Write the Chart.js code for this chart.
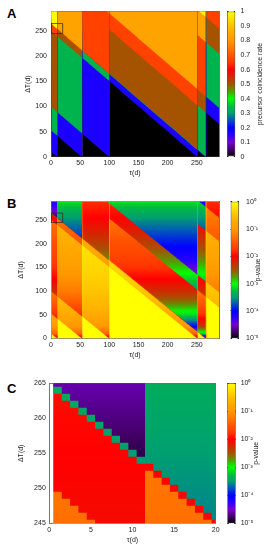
<!DOCTYPE html>
<html>
<head>
<meta charset="utf-8">
<title>Precursor coincidence rate and p-value</title>
<script src="https://cdn.jsdelivr.net/npm/chart.js@4.4.1/dist/chart.umd.min.js"></script>
<style>
html,body{margin:0;padding:0;background:#fff;}
#wrap{position:relative;width:270px;height:550px;overflow:hidden;background:#fff;}
#wrap canvas{position:absolute;}
.letter{position:absolute;left:7px;font-family:"Liberation Sans",Arial,sans-serif;font-weight:bold;font-size:13px;line-height:13px;color:#000;}
</style>
</head>
<body>
<div id="wrap">
<div class="letter" style="top:6.6px">A</div>
<div class="letter" style="top:197.3px">B</div>
<div class="letter" style="top:382.3px">C</div>
</div>
<script>
// ================= DATA =================
const nEvents = 6;                       // number of target events (rates are k/6)
// τ ranges (days, inclusive) of the vertical strips
const tauColumns = [[1,11],[12,53],[54,100],[101,251],[252,265],[266,266],[267,288]];
// per strip: values of S = τ+ΔT (days) at which one more event coincides
const sThresholds = [
  [11, 53, 100, 251, 265, 266],
  [53, 100, 251, 265, 266],
  [100, 251, 265, 266, 386],
  [251, 265, 266, 354, 386, 544],
  [265, 266, 354, 386, 494, 544],
  [266, 354, 386, 494, 544],
  [354, 386, 494, 544]
];
// p-value (log10) of k coinciding events, as a function of ΔT
const dTsamples = [0, 10, 25, 50, 75, 100, 125, 150, 175, 200, 225, 250, 275, 289];
const logP_k1 = [-2.40,-1.40,-1.01,-0.73,-0.57,-0.46,-0.38,-0.32,-0.27,-0.23,-0.20,-0.17,-0.15,-0.14];
const logP_k2 = [-5.00,-3.17,-2.38,-1.80,-1.47,-1.24,-1.07,-0.93,-0.81,-0.72,-0.64,-0.57,-0.50,-0.47];
const logP_k3 = [-5.00,-5.00,-4.02,-3.14,-2.63,-2.27,-2.00,-1.78,-1.65,-1.55,-1.42,-1.30,-1.18,-1.12];
const logP_k4 = [-5.00,-5.00,-5.00,-4.72,-4.03,-3.54,-3.17,-2.86,-2.61,-2.39,-2.20,-2.03,-1.88,-1.80];
const logP_k5 = [-5.00,-5.00,-5.00,-5.00,-5.00,-5.00,-4.70,-4.40,-4.15,-3.95,-3.75,-3.55,-3.30,-3.10];
const logP_k6 = [-5.00,-5.00,-5.00,-5.00,-5.00,-5.00,-5.00,-5.00,-5.00,-5.00,-5.00,-4.95,-4.35,-4.20];
// axes / ticks
const tauRangeAB = [0, 288];
const dTRangeAB = [0, 289];
const tauTicksAB = [0, 50, 100, 150, 200, 250];
const dTTicksAB = [0, 50, 100, 150, 200, 250];
const zoomTau = [0, 20];                 // panel C range (box in A and B)
const zoomDT = [245, 265];
const tauTicksC = [0, 5, 10, 15, 20];
const dTTicksC = [245, 250, 255, 260, 265];
const rateTicks = [0, 0.1, 0.2, 0.3, 0.4, 0.5, 0.6, 0.7, 0.8, 0.9, 1];
const pTicks = [1e-5, 1e-4, 1e-3, 1e-2, 1e-1, 1];
const pTickLabels = ['10\u207B\u2075','10\u207B\u2074','10\u207B\u00B3','10\u207B\u00B2','10\u207B\u00B9','10\u2070'];
// ===============================================================

const logPByCount = [null, logP_k1, logP_k2, logP_k3, logP_k4, logP_k5, logP_k6];
const pLogMin = Math.log10(pTicks[0]), pLogMax = Math.log10(pTicks[pTicks.length - 1]);

const FAMILY = '"Liberation Sans", Arial, Helvetica, sans-serif';
Chart.defaults.font.family = FAMILY;
Chart.defaults.color = '#222';
const F7 = {family: FAMILY, size: 7, lineHeight: 1.2, weight: 'normal'};

const cmapStops = [
  [0.00,[0,0,0]], [0.05,[70,0,110]], [0.10,[120,0,210]], [0.15,[40,0,255]],
  [0.20,[0,0,255]], [0.25,[0,80,192]], [0.30,[0,160,112]], [0.35,[0,190,60]],
  [0.40,[0,255,0]], [0.45,[80,160,0]], [0.50,[165,83,0]], [0.55,[210,40,0]],
  [0.60,[255,0,0]], [0.65,[255,56,0]], [0.70,[255,85,0]], [0.75,[255,122,0]],
  [0.80,[255,153,0]], [0.85,[255,168,0]], [0.90,[255,191,0]], [0.95,[255,224,0]],
  [1.00,[255,255,0]]
];
function cmap(f) {
  f = Math.max(0, Math.min(1, f));
  for (let i = 1; i < cmapStops.length; i++) {
    const [f1, c1] = cmapStops[i];
    if (f <= f1) {
      const [f0, c0] = cmapStops[i - 1];
      const u = (f - f0) / (f1 - f0);
      const c = c0.map((v, j) => Math.round(v + (c1[j] - v) * u));
      return 'rgb(' + c.join(',') + ')';
    }
  }
  return 'rgb(255,255,0)';
}
const gradCache = new Map();
function pGradient(chart, k) {
  const ys = chart.scales.y;
  if (!ys || !chart.chartArea) return cmap(0.5);
  const key = chart.id + ':' + k + ':' + ys.top + ':' + ys.bottom;
  if (gradCache.has(key)) return gradCache.get(key);
  const tbl = logPByCount[k];
  const n = dTsamples.length, d0 = dTsamples[0], d1 = dTsamples[n - 1];
  const g = chart.ctx.createLinearGradient(0, ys.getPixelForValue(d0), 0, ys.getPixelForValue(d1));
  const fOf = lp => (lp - pLogMin) / (pLogMax - pLogMin);
  for (let i = 0; i < n - 1; i++) {
    for (let s = 0; s < 6; s++) {
      const u = s / 6;
      const dT = dTsamples[i] + (dTsamples[i + 1] - dTsamples[i]) * u;
      const lp = tbl[i] + (tbl[i + 1] - tbl[i]) * u;
      g.addColorStop((dT - d0) / (d1 - d0), cmap(fOf(lp)));
    }
  }
  g.addColorStop(1, cmap(fOf(tbl[n - 1])));
  gradCache.set(key, g);
  return g;
}
function cbGradient(chart) {
  const a = chart.chartArea;
  if (!a) return cmap(0.5);
  const g = chart.ctx.createLinearGradient(0, a.bottom, 0, a.top);
  cmapStops.forEach(([f, c]) => g.addColorStop(f, 'rgb(' + c.join(',') + ')'));
  return g;
}

// polygons of constant coincidence count, painted from low S to high S
function buildDatasets(P) {
  const tStart = Math.max(tauColumns[0][0], Math.ceil(P.x[0]));
  const tEnd = Math.min(tauColumns[tauColumns.length - 1][1], Math.floor(P.x[1] + 0.5));
  const yTop = P.y[1] + 2, yBot = P.y[0] - 2;
  const paint = [];
  tauColumns.forEach((col, ci) => {
    const t0 = Math.max(col[0], tStart), t1 = Math.min(col[1], tEnd);
    if (t0 > t1) return;
    const ext = t1 < tEnd ? 0.6 : 0;
    const levels = [-Infinity].concat(sThresholds[ci]);
    levels.forEach((s, k) => {
      const pts = [{x: t0 - 0.5, y: yTop}];
      for (let t = t0; t <= t1; t++) {
        const yb = Math.max(yBot, Math.min(yTop, s - t - 0.5));
        pts.push({x: t - 0.5, y: yb}, {x: t === t1 ? t + 0.5 + ext : t + 0.5, y: yb});
      }
      pts.push({x: t1 + 0.5 + ext, y: yTop});
      let bg;
      if (P.mode === 'rate') bg = cmap(k / nEvents);
      else bg = k === 0 ? cmap(1) : (ctx => pGradient(ctx.chart, k));
      paint.push({data: pts, showLine: true, fill: 'shape', backgroundColor: bg,
                  borderWidth: 0, borderColor: 'rgba(0,0,0,0)', pointRadius: 0, tension: 0});
    });
  });
  if (P.box) {
    paint.push({data: [
      {x: zoomTau[0], y: zoomDT[0]}, {x: zoomTau[1], y: zoomDT[0]},
      {x: zoomTau[1], y: zoomDT[1]}, {x: zoomTau[0], y: zoomDT[1]}, {x: zoomTau[0], y: zoomDT[0]}],
      showLine: true, fill: false, borderColor: 'rgba(50,40,30,0.8)', borderWidth: 0.9,
      pointRadius: 0, tension: 0});
  }
  return paint.reverse();
}

const wrap = document.getElementById('wrap');
function addCanvas(left, top, w, h) {
  const c = document.createElement('canvas');
  c.width = w; c.height = h;
  c.style.left = left + 'px'; c.style.top = top + 'px';
  c.style.width = w + 'px'; c.style.height = h + 'px';
  wrap.appendChild(c);
  return c;
}
const tickSetter = arr => (s => { s.ticks = arr.map(v => ({value: v})); });

function makePanel(P) {
  const cTop = Math.floor(P.plot.t) - 14;
  const cH = Math.ceil(P.plot.b) + 30 - cTop;
  const padTop = P.plot.t - cTop;
  const plotBot = P.plot.b - cTop;
  const xAxisH = 26;
  const padBottom = cH - plotBot - xAxisH;
  const W = 222;
  const border = {display: true, color: '#777', width: 1};
  const noGrid = {display: false, drawTicks: false};
  // ---- heatmap ----
  new Chart(addCanvas(0, cTop, W, cH), {
    type: 'scatter',
    data: {datasets: buildDatasets(P)},
    options: {
      responsive: false, animation: false, events: [],
      layout: {padding: {left: 0, top: padTop, right: W - P.plot.r, bottom: padBottom}},
      plugins: {legend: {display: false}, tooltip: {enabled: false}},
      scales: {
        x: {type: 'linear', position: 'bottom', min: P.x[0], max: P.x[1],
            afterBuildTicks: tickSetter(P.xTicks),
            ticks: {font: F7, color: '#222', padding: 2.4, autoSkip: false, maxRotation: 0, callback: v => String(v)},
            grid: noGrid, border: border,
            title: {display: true, text: '\u03C4(d)', font: F7, color: '#222', padding: {top: 0, bottom: 5.1}},
            afterFit: s => { s.height = xAxisH; }},
        y: {type: 'linear', position: 'left', min: P.y[0], max: P.y[1],
            afterBuildTicks: tickSetter(P.yTicks),
            ticks: {font: F7, color: '#222', padding: P.yTickPad, autoSkip: false, callback: v => String(v)},
            grid: noGrid, border: border,
            title: {display: true, text: '\u0394T(d)', font: F7, color: '#222', padding: {top: P.yTitleX - 4.2, bottom: 0}},
            afterFit: s => { s.width = P.plot.l; }},
        x2: {type: 'linear', position: 'top', ticks: {display: false}, grid: noGrid, border: border,
             afterFit: s => { s.height = 0; }},
        y2: {type: 'linear', position: 'right', ticks: {display: false}, grid: noGrid, border: border,
             afterFit: s => { s.width = 0; }}
      }
    }
  });
  // ---- colour bar ----
  const CBW = 48, cbLeft = 222;
  const isLog = P.mode === 'p';
  const cbRange = isLog ? [pTicks[0], pTicks[pTicks.length - 1]] : [rateTicks[0], rateTicks[rateTicks.length - 1]];
  new Chart(addCanvas(cbLeft, cTop, CBW, cH), {
    type: 'bar',
    data: {labels: [''], datasets: [{data: [cbRange], backgroundColor: ctx => cbGradient(ctx.chart),
      borderColor: '#555', borderWidth: 1, borderSkipped: false, barPercentage: 1, categoryPercentage: 1}]},
    options: {
      responsive: false, animation: false, events: [],
      layout: {padding: {left: P.cb.l - cbLeft, top: padTop, right: 0, bottom: cH - plotBot}},
      plugins: {legend: {display: false}, tooltip: {enabled: false}},
      scales: {
        x: {display: false},
        y: {type: isLog ? 'logarithmic' : 'linear', position: 'right', min: cbRange[0], max: cbRange[1], z: 1,
            afterBuildTicks: tickSetter(isLog ? pTicks : rateTicks),
            ticks: {font: F7, color: '#222', padding: P.cb.labelX - P.cb.r, autoSkip: false,
                    callback: v => isLog ? pTickLabels[pTicks.findIndex(t => Math.abs(t - v) < t * 1e-6)] : String(Math.round(v * 10) / 10)},
            grid: {display: true, drawTicks: false, color: '#111', lineWidth: 1},
            border: {display: false, dash: [1.5, P.cb.r - P.cb.l - 3]},
            afterFit: s => { s.width = CBW - (P.cb.r - cbLeft); }}
      }
    }
  });
  // ---- colour bar label ----
  const lx = Math.floor(P.cb.titleX - 4.2);
  new Chart(addCanvas(lx, cTop, 12, cH), {
    type: 'bar',
    data: {labels: [], datasets: []},
    options: {
      responsive: false, animation: false, events: [],
      layout: {padding: {left: P.cb.titleX - 4.2 - lx, top: padTop, right: 0, bottom: cH - plotBot}},
      plugins: {legend: {display: false}, tooltip: {enabled: false},
        title: {display: true, position: 'left', text: P.cb.title, font: F7, color: '#222', padding: 0}},
      scales: {x: {display: false}, y: {display: false}}
    }
  });
}

const PANELS = [
  {mode: 'rate', x: tauRangeAB, y: dTRangeAB, xTicks: tauTicksAB, yTicks: dTTicksAB,
   plot: {l: 51, t: 11.5, r: 219, b: 156.7}, yTitleX: 28.5, yTickPad: 4, box: true,
   cb: {l: 227, r: 235.3, labelX: 240.5, titleX: 260, title: 'precursor coincidence rate'}},
  {mode: 'p', x: tauRangeAB, y: dTRangeAB, xTicks: tauTicksAB, yTicks: dTTicksAB,
   plot: {l: 51, t: 201.7, r: 219, b: 338.3}, yTitleX: 20.7, yTickPad: 4, box: true,
   cb: {l: 230.6, r: 239, labelX: 246, titleX: 257.8, title: 'p-value'}},
  {mode: 'p', x: zoomTau, y: zoomDT, xTicks: tauTicksC, yTicks: dTTicksC,
   plot: {l: 49.3, t: 383.3, r: 219, b: 523.3}, yTitleX: 20.8, yTickPad: 3.5, box: false,
   cb: {l: 227.3, r: 235.7, labelX: 240.7, titleX: 255.8, title: 'p-value'}}
];
PANELS.forEach(makePanel);
</script>
</body>
</html>
